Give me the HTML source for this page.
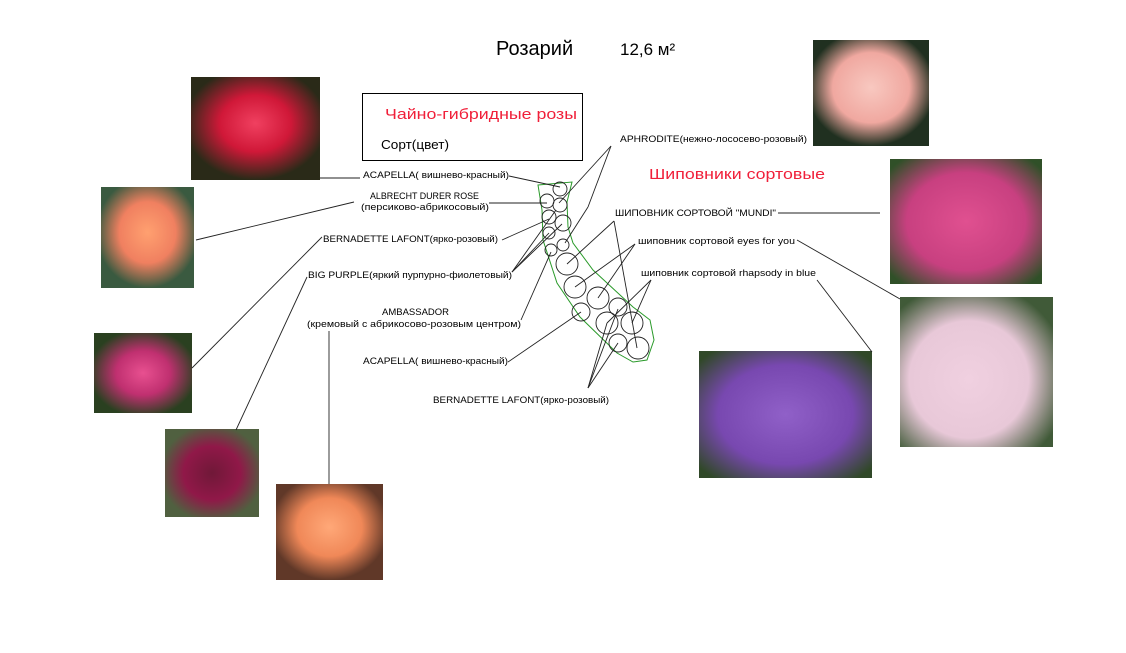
<!DOCTYPE html>
<html><head><meta charset="utf-8"><style>
html,body{margin:0;padding:0;background:#fff;width:1126px;height:653px;overflow:hidden}
svg text{font-family:"Liberation Sans","DejaVu Sans",sans-serif}
</style></head><body>
<svg width="1126" height="653" viewBox="0 0 1126 653" xmlns="http://www.w3.org/2000/svg">
<defs>
<radialGradient id="g1" cx="50%" cy="45%" r="55%"><stop offset="0" stop-color="#f04060"/><stop offset="0.5" stop-color="#d01838"/><stop offset="1" stop-color="#2a2a18"/></radialGradient>
<radialGradient id="g2" cx="50%" cy="45%" r="55%"><stop offset="0" stop-color="#ffa070"/><stop offset="0.55" stop-color="#f08060"/><stop offset="1" stop-color="#3a5a40"/></radialGradient>
<radialGradient id="g3" cx="50%" cy="50%" r="55%"><stop offset="0" stop-color="#e85090"/><stop offset="0.5" stop-color="#c03070"/><stop offset="1" stop-color="#2a4020"/></radialGradient>
<radialGradient id="g4" cx="50%" cy="50%" r="55%"><stop offset="0" stop-color="#701838"/><stop offset="0.55" stop-color="#901848"/><stop offset="1" stop-color="#506040"/></radialGradient>
<radialGradient id="g5" cx="50%" cy="45%" r="55%"><stop offset="0" stop-color="#ffa878"/><stop offset="0.55" stop-color="#f08858"/><stop offset="1" stop-color="#603828"/></radialGradient>
<radialGradient id="g6" cx="50%" cy="45%" r="55%"><stop offset="0" stop-color="#f8c8c0"/><stop offset="0.6" stop-color="#f0a8a0"/><stop offset="1" stop-color="#203020"/></radialGradient>
<radialGradient id="g7" cx="50%" cy="50%" r="65%"><stop offset="0" stop-color="#e05090"/><stop offset="0.6" stop-color="#c84080"/><stop offset="1" stop-color="#305028"/></radialGradient>
<radialGradient id="g8" cx="45%" cy="55%" r="65%"><stop offset="0" stop-color="#f0d0e0"/><stop offset="0.6" stop-color="#e8c8d8"/><stop offset="1" stop-color="#405a38"/></radialGradient>
<radialGradient id="g9" cx="50%" cy="50%" r="65%"><stop offset="0" stop-color="#9060c8"/><stop offset="0.6" stop-color="#7848b0"/><stop offset="1" stop-color="#304828"/></radialGradient>
</defs>

<rect x="191" y="77" width="129" height="103" fill="url(#g1)"/>
<rect x="101" y="187" width="93" height="101" fill="url(#g2)"/>
<rect x="94" y="333" width="98" height="80" fill="url(#g3)"/>
<rect x="165" y="429" width="94" height="88" fill="url(#g4)"/>
<rect x="276" y="484" width="107" height="96" fill="url(#g5)"/>
<rect x="813" y="40" width="116" height="106" fill="url(#g6)"/>
<rect x="890" y="159" width="152" height="125" fill="url(#g7)"/>
<rect x="900" y="297" width="153" height="150" fill="url(#g8)"/>
<rect x="699" y="351" width="173" height="127" fill="url(#g9)"/>

<text x="496" y="55" font-size="20" fill="#000">Розарий</text>
<text x="620" y="55" font-size="17" fill="#000">12,6 м²</text>
<rect x="362.5" y="93.5" width="220" height="67" fill="none" stroke="#000" stroke-width="1"/>
<text x="385" y="119" font-size="15" fill="#f0203a" textLength="192" lengthAdjust="spacingAndGlyphs">Чайно-гибридные розы</text>
<text x="381" y="149" font-size="12.5" fill="#000" textLength="68" lengthAdjust="spacingAndGlyphs">Сорт(цвет)</text>
<text x="649" y="179" font-size="15" fill="#f0203a" textLength="176" lengthAdjust="spacingAndGlyphs">Шиповники сортовые</text>

<path d="M538,185 L572,182 L567,202 L568,227 L573,243 L593,270 L633,307 L650,320 L654,340 L647,360 L633,362 L617,353 L580,317 L557,283 L543,240 L542,210 Z" fill="none" stroke="#2a9a2a" stroke-width="1"/>

<g fill="none" stroke="#222" stroke-width="0.9">
<circle cx="560" cy="189" r="7"/><circle cx="547" cy="201" r="7"/><circle cx="560" cy="205" r="7"/>
<circle cx="549" cy="217" r="7"/><circle cx="563" cy="223" r="8"/><circle cx="549" cy="233" r="6"/>
<circle cx="563" cy="245" r="6"/><circle cx="551" cy="250" r="6"/><circle cx="567" cy="264" r="11"/>
<circle cx="575" cy="287" r="11"/><circle cx="598" cy="298" r="11"/><circle cx="618" cy="307" r="9"/>
<circle cx="581" cy="312" r="9"/><circle cx="607" cy="323" r="11"/><circle cx="632" cy="323" r="11"/>
<circle cx="618" cy="343" r="9"/><circle cx="638" cy="348" r="11"/>
</g>

<g stroke="#222" stroke-width="0.9" fill="none">
<line x1="320" y1="178" x2="360" y2="178"/>
<line x1="509" y1="176" x2="560" y2="187"/>
<line x1="196" y1="240" x2="354" y2="202"/>
<line x1="489" y1="203" x2="547" y2="203"/>
<line x1="192" y1="368" x2="322" y2="237"/>
<line x1="502" y1="240" x2="549" y2="219"/>
<line x1="236" y1="430" x2="307" y2="277"/>
<line x1="512" y1="272" x2="549" y2="233"/>
<line x1="512" y1="272" x2="562" y2="224"/>
<line x1="512" y1="272" x2="556" y2="210"/>
<line x1="329" y1="331" x2="329" y2="484"/>
<line x1="521" y1="320" x2="551" y2="252"/>
<line x1="508" y1="362" x2="581" y2="312"/>
<line x1="588" y1="388" x2="607" y2="323"/>
<line x1="588" y1="388" x2="618" y2="309"/>
<line x1="588" y1="388" x2="618" y2="343"/>
<line x1="611" y1="146" x2="588" y2="207"/>
<line x1="588" y1="207" x2="565" y2="243"/>
<line x1="611" y1="146" x2="559" y2="203"/>
<line x1="778" y1="213" x2="880" y2="213"/>
<line x1="614" y1="221" x2="567" y2="264"/>
<line x1="614" y1="221" x2="637" y2="348"/>
<line x1="635" y1="244" x2="575" y2="287"/>
<line x1="635" y1="244" x2="598" y2="298"/>
<line x1="797" y1="240" x2="900" y2="299"/>
<line x1="651" y1="280" x2="607" y2="323"/>
<line x1="651" y1="280" x2="632" y2="323"/>
<line x1="817" y1="280" x2="872" y2="352"/>
</g>

<g font-size="9.5" fill="#000" lengthAdjust="spacingAndGlyphs">
<text x="363" y="178" textLength="146" lengthAdjust="spacingAndGlyphs">ACAPELLA( вишнево-красный)</text>
<text x="370" y="199" textLength="109" lengthAdjust="spacingAndGlyphs">ALBRECHT DURER ROSE</text>
<text x="361" y="210" textLength="128" lengthAdjust="spacingAndGlyphs">(персиково-абрикосовый)</text>
<text x="323" y="242" textLength="175" lengthAdjust="spacingAndGlyphs">BERNADETTE LAFONT(ярко-розовый)</text>
<text x="308" y="278" textLength="204" lengthAdjust="spacingAndGlyphs">BIG PURPLE(яркий пурпурно-фиолетовый)</text>
<text x="382" y="315" textLength="67" lengthAdjust="spacingAndGlyphs">AMBASSADOR</text>
<text x="307" y="327" textLength="214" lengthAdjust="spacingAndGlyphs">(кремовый с абрикосово-розовым центром)</text>
<text x="363" y="364" textLength="145" lengthAdjust="spacingAndGlyphs">ACAPELLA( вишнево-красный)</text>
<text x="433" y="403" textLength="176" lengthAdjust="spacingAndGlyphs">BERNADETTE LAFONT(ярко-розовый)</text>
<text x="620" y="142" textLength="187" lengthAdjust="spacingAndGlyphs">APHRODITE(нежно-лососево-розовый)</text>
<text x="615" y="216" textLength="161" lengthAdjust="spacingAndGlyphs">ШИПОВНИК СОРТОВОЙ "MUNDI"</text>
<text x="638" y="244" textLength="157" lengthAdjust="spacingAndGlyphs">шиповник сортовой eyes for you</text>
<text x="641" y="276" textLength="175" lengthAdjust="spacingAndGlyphs">шиповник сортовой rhapsody in blue</text>
</g>
</svg>
</body></html>
